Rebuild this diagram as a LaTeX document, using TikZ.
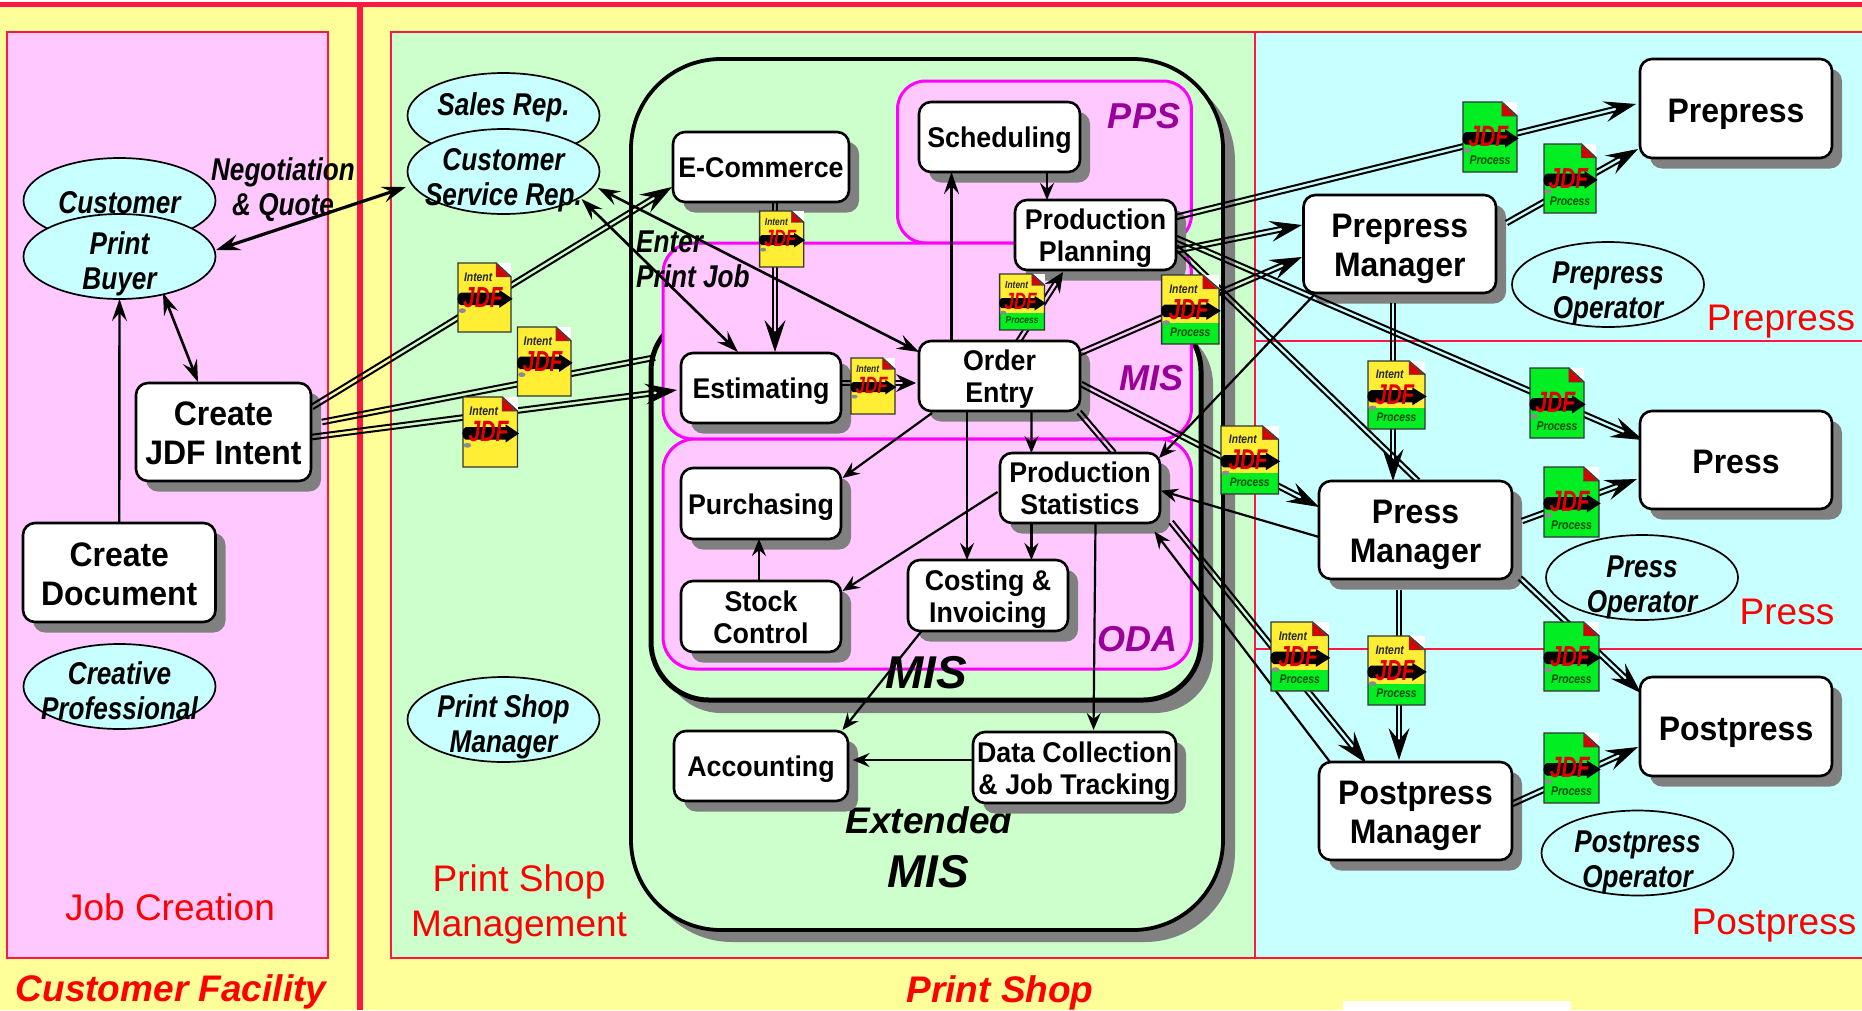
\documentclass[tikz,border=0pt]{standalone}
\usepackage{fontspec}
\setmainfont{Liberation Sans}
\newfontfamily\narrowf[FakeStretch=0.83]{Liberation Sans}
\newfontfamily\midf[FakeStretch=0.94]{Liberation Sans}
\usetikzlibrary{arrows.meta,calc,shapes.geometric}
\definecolor{bgyellow}{HTML}{FFFF99}
\definecolor{bgpink}{HTML}{FFC8FF}
\definecolor{bggreen}{HTML}{CCFFCC}
\definecolor{bgcyan}{HTML}{C8FFFF}
\definecolor{redline}{HTML}{FF1744}
\definecolor{labpurple}{HTML}{990099}
\definecolor{shadowgray}{HTML}{808080}
\definecolor{docyellow}{HTML}{FFEE33}
\definecolor{docgreen}{HTML}{00EE22}
\definecolor{magline}{HTML}{FF00FF}
\pgfdeclarelayer{bgl}\pgfdeclarelayer{shad}\pgfdeclarelayer{top}
\pgfsetlayers{bgl,shad,main,top}
\tikzset{
  zone/.style={draw=redline,line width=1.4pt},
  boxnode/.style={draw=black,fill=white,line width=2.6pt,rounded corners=12pt,align=center,inner sep=0pt},
  bigt/.style={font=\midf\bfseries\fontsize{34}{39}\selectfont,text height=31pt,text depth=4pt},
  bigtt/.style={font=\midf\bfseries\fontsize{34}{39}\selectfont,text height=68pt,text depth=3pt},
  smallt/.style={font=\midf\bfseries\fontsize{28.5}{32}\selectfont,text height=25.4pt,text depth=4pt},
  smalltt/.style={font=\midf\bfseries\fontsize{28.5}{32}\selectfont,text height=56.4pt,text depth=3pt},
  person/.style={ellipse,draw=black,fill=bgcyan,line width=1.7pt,inner sep=0pt},
  persont/.style={align=center,inner sep=0pt,font=\narrowf\bfseries\itshape\fontsize{31.5}{35}\selectfont,text height=58.6pt,text depth=3pt},
  persons/.style={align=center,inner sep=0pt,font=\narrowf\bfseries\itshape\fontsize{31.5}{35}\selectfont,text height=25pt,text depth=4pt},
  redt/.style={text=red,align=center,inner sep=0pt,font=\fontsize{37}{45}\selectfont},
  redbt/.style={text=red,inner sep=0pt,font=\bfseries\itshape\fontsize{37}{45}\selectfont},
  purplet/.style={text=labpurple,inner sep=0pt,font=\bfseries\itshape\fontsize{36}{40}\selectfont},
  blackt/.style={inner sep=0pt,font=\bfseries\itshape\fontsize{46}{50}\selectfont},
  sarrow/.style={line width=2.2pt,-{Stealth[length=17pt,width=14pt,inset=6pt]}},
  larrow/.style={line width=2.4pt,-{Stealth[length=22pt,width=15pt,inset=8pt]}},
  wboth/.style={line width=2.6pt,{Stealth[length=22pt,width=15pt,inset=8pt]}-{Stealth[length=22pt,width=15pt,inset=8pt]}},
  tboth/.style={line width=3.2pt,{Stealth[length=24pt,width=16pt,inset=9pt]}-{Stealth[length=24pt,width=16pt,inset=9pt]}},
  dl/.style={line width=2pt,draw=black},
}
% rounded panel with optional shadow offset
\newcommand\panel[7]{% name x0 y0 x1 y1 style shadow
  \pgfmathsetmacro\pw{#4-#2}\pgfmathsetmacro\ph{#5-#3}
  \pgfmathsetmacro\pcx{(#2+#4)/2}\pgfmathsetmacro\pcy{(#3+#5)/2}
  #7
  \node[#6,minimum width=\pw pt,minimum height=\ph pt,inner sep=0pt] (#1) at (\pcx,\pcy) {};
}
\newcommand\bx[7]{% name x0 y0 x1 y1 textstyle text
  \pgfmathsetmacro\bw{#4-#2}\pgfmathsetmacro\bh{#5-#3}
  \pgfmathsetmacro\bcx{(#2+#4)/2}\pgfmathsetmacro\bcy{(#3+#5)/2}
  \begin{pgfonlayer}{shad}
    \fill[shadowgray,rounded corners=12pt] (#2+10,#3+10) rectangle (#4+10,#5+10.5);
  \end{pgfonlayer}
  \begin{pgfonlayer}{top}
    \node[boxnode,#6,minimum width=\bw pt,minimum height=\bh pt] (#1) at (\bcx,\bcy) {#7};
  \end{pgfonlayer}
}
\newcommand\el[6]{% name cx cy textstyle text texty
  \begin{pgfonlayer}{top}
    \node[person,minimum width=192pt,minimum height=85pt] (#1) at (#2,#3) {};
    \node[#4] (#1t) at (#2,#6) {#5};
  \end{pgfonlayer}
}
\newcommand\jdf[6]{% name x0 y0 x1 y1 kind(1 intent,2 both,3 process)
  \begin{pgfonlayer}{top}
  \pgfmathsetmacro\jw{#4-#2}\pgfmathsetmacro\jh{#5-#3}\pgfmathsetmacro\jf{\jh/69}
  \pgfmathsetmacro\fsI{12.5*\jf}\pgfmathsetmacro\fsJ{29*\jf}
  \ifnum#6=3 \def\jc{docgreen}\else\def\jc{docyellow}\fi
  \begin{scope}[shift={(#2,#3)},x=\jw pt,y=-\jh pt]
    \coordinate (#1) at (.5,.5);
    \fill[white] (.7,0) rectangle (1,.22);
    \fill[fill=\jc] (0,0) -- (.72,0) -- (1,.2) -- (1,1) -- (0,1) -- cycle;
    \ifnum#6=2 \fill[docgreen] (0,.69) rectangle (1,1);\fi
    \draw[line width=1.4pt,draw=black!80] (0,0) -- (.72,0) -- (1,.2) -- (1,1) -- (0,1) -- cycle;
    \filldraw[fill=red!85!black,draw=black!70,line width=.6pt] (.72,0) -- (.97,.2) -- (.72,.2) -- cycle;
    \fill[black] (.05,.43) -- (.78,.43) -- (.78,.39) -- (1.03,.52) -- (.78,.65) -- (.78,.61) -- (.05,.61) .. controls (-.03,.6) and (-.03,.44) .. (.05,.43) -- cycle;
    \fill[black!45] (.08,.69) circle [x radius=.07,y radius=.035];
    \node[inner sep=0pt,text=red!90!black,font=\bfseries\itshape\fontsize{\fsJ}{\fsJ}\selectfont] (#1j) at (.47,.5) {\scalebox{.72}[1]{JDF}};
    \ifnum#6<3
      \node[inner sep=0pt,text=black!85,font=\narrowf\bfseries\itshape\fontsize{\fsI}{\fsI}\selectfont] (#1i) at (.38,.2) {Intent};
    \fi
    \ifnum#6>1
      \node[inner sep=0pt,text=green!30!black,font=\narrowf\bfseries\itshape\fontsize{\fsI}{\fsI}\selectfont] (#1p) at (.5,.83) {Process};
    \fi
  \end{scope}
  \end{pgfonlayer}
}
\newcommand\sgl[7]{\draw[#1] ([shift={(#3,#4)}]#2.center) -- ([shift={(#6,#7)}]#5.center);}
\newcommand\dlines[2]{% start end coordinates names
  \draw[dl] ($(#1)!2.3pt!90:(#2)$) -- ($(#2)!2.3pt!-90:(#1)$);
  \draw[dl] ($(#1)!2.3pt!-90:(#2)$) -- ($(#2)!2.3pt!90:(#1)$);
}
\newcommand\dplain[6]{%
  \coordinate (dA) at ([shift={(#2,#3)}]#1.center);
  \coordinate (dB) at ([shift={(#5,#6)}]#4.center);
  \dlines{dA}{dB}
}
\newcommand\dbig[6]{%
  \coordinate (dA) at ([shift={(#2,#3)}]#1.center);
  \coordinate (dB) at ([shift={(#5,#6)}]#4.center);
  \coordinate (dC) at ($(dB)!12pt!(dA)$);
  \dlines{dA}{dC}
  \draw[line width=1pt,-{Stealth[length=32pt,width=21pt,inset=12pt]}] ($(dB)!20pt!(dA)$) -- (dB);
}
\newcommand\dsmall[6]{%
  \coordinate (dA) at ([shift={(#2,#3)}]#1.center);
  \coordinate (dB) at ([shift={(#5,#6)}]#4.center);
  \coordinate (dC) at ($(dB)!10pt!(dA)$);
  \dlines{dA}{dC}
  \draw[line width=1pt,-{Stealth[length=20pt,width=18pt,inset=7pt]}] ($(dB)!13pt!(dA)$) -- (dB);
}
\begin{document}
\begin{tikzpicture}[x=1pt,y=-1pt]
\useasboundingbox (0,0) rectangle (1862,1010);
\begin{pgfonlayer}{bgl}
  \fill[white] (0,0) rectangle (1862,1010);
  \fill[bgyellow] (0,2) rectangle (1862,1010);
  \fill[white] (1343,1001) rectangle (1571,1010);
  \fill[redline] (0,2) rectangle (1862,6.5);
  \fill[redline] (357,2) rectangle (362.5,1010);
  \filldraw[zone,fill=bgpink] (7,32) rectangle (328,958);
  \filldraw[zone,fill=bggreen] (391,32) rectangle (1255,958);
  \filldraw[zone,fill=bgcyan] (1255,32) rectangle (1870,958);
  \draw[zone] (1255,341) -- (1870,341);
  \draw[zone] (1255,649) -- (1870,649);
  \panel{extmis}{631}{59}{1223}{930}{draw=black,fill=bggreen,line width=3.8pt,rounded corners=90pt}
    {\fill[shadowgray,rounded corners=90pt] (642,71) rectangle (1235,942);}
  \panel{mis}{651}{313}{1201}{700}{draw=black,fill=bggreen,line width=5pt,rounded corners=58pt}
    {\fill[shadowgray,rounded corners=58pt] (663,326) rectangle (1213,713);}
  \panel{pps}{897.5}{81}{1191.4}{243}{draw=magline,fill=bgpink,line width=3pt,rounded corners=28pt}{}
  \panel{mispink}{663}{243}{1191.4}{439}{draw=magline,fill=bgpink,line width=3pt,rounded corners=30pt}{}
  \panel{oda}{663}{439}{1191.4}{669}{draw=magline,fill=bgpink,line width=3pt,rounded corners=32pt}{}
  \node[inner sep=0pt,font=\bfseries\itshape\fontsize{37}{40}\selectfont] (lblext) at (929,820) {Extended};
\end{pgfonlayer}

% boxes
\bx{cji}{136}{383}{311}{481}{bigtt}{Create\\JDF Intent}
\bx{cdoc}{23}{523}{215.5}{622}{bigtt}{Create\\Document}
\bx{ecom}{673}{132}{849}{202}{smallt}{E-Commerce}
\bx{sched}{919}{102}{1080}{172}{smallt}{Scheduling}
\bx{pp}{1015}{200}{1176}{270}{smalltt}{Production\\Planning}
\bx{est}{681}{353}{841}{423}{smallt}{Estimating}
\bx{oe}{919}{341}{1080}{411}{smalltt}{Order\\Entry}
\bx{ps}{1000}{453}{1160}{523}{smalltt}{Production\\Statistics}
\bx{purch}{681}{468}{841}{539}{smallt}{Purchasing}
\bx{stock}{681}{581}{841}{652}{smalltt}{Stock\\Control}
\bx{cost}{908}{560}{1068}{631}{smalltt}{Costing \&\\Invoicing}
\bx{acc}{674}{731}{848}{801}{smallt}{Accounting}
\bx{dc}{973}{732}{1176}{803}{smalltt}{Data Collection\\\& Job Tracking}
\bx{prep}{1640}{59}{1832}{158}{bigt}{Prepress}
\bx{prepm}{1303.5}{195}{1496}{293}{bigtt}{Prepress\\Manager}
\bx{press}{1640}{411}{1832}{509}{bigt}{Press}
\bx{pressm}{1319}{481}{1512}{579}{bigtt}{Press\\Manager}
\bx{post}{1640}{677}{1832}{776}{bigt}{Postpress}
\bx{postm}{1319}{762}{1512}{860}{bigtt}{Postpress\\Manager}

% people
\el{cust}{119.5}{200.5}{persons}{Customer}{203}
\el{pb}{119.5}{256.5}{persont}{Print\\Buyer}{262}
\el{sales}{503.5}{115.5}{persons}{Sales Rep.}{105}
\el{csr}{503.5}{171.5}{persont}{Customer\\Service Rep.}{178}
\el{creat}{119.5}{686.5}{persont}{Creative\\Professional}{692}
\el{psm}{503.5}{719.5}{persont}{Print Shop\\Manager}{725}
\el{prepo}{1608}{284.5}{persont}{Prepress\\Operator}{291}
\el{presso}{1642}{577.5}{persont}{Press\\Operator}{584.5}
\el{posto}{1637.5}{853}{persont}{Postpress\\Operator}{859.5}

% documents
\jdf{d1}{458}{263}{511}{332}{1}
\jdf{d2}{517.5}{327}{571}{396}{1}
\jdf{d3}{463}{397}{517.5}{467}{1}
\jdf{d4}{759.6}{211}{803.7}{267}{1}
\jdf{d5}{851}{358}{895}{414}{1}
\jdf{d6}{999.6}{274}{1044.5}{330}{2}
\jdf{d7}{1161.6}{275}{1219}{344}{2}
\jdf{d8}{1368}{361}{1425}{429}{2}
\jdf{d9}{1221}{426}{1278.5}{494}{2}
\jdf{d10}{1271}{622}{1328.5}{691}{2}
\jdf{d11}{1368}{636}{1425}{705}{2}
\jdf{d12}{1463}{102}{1517}{172}{3}
\jdf{d13}{1544}{144}{1596}{213}{3}
\jdf{d14}{1530}{368}{1584}{438}{3}
\jdf{d15}{1544}{467}{1599}{537}{3}
\jdf{d16}{1544}{622}{1599}{691}{3}
\jdf{d17}{1544}{733}{1599}{803}{3}

% labels
\begin{pgfonlayer}{top}
  \node[redt] (lbljob) at (170,907) {Job Creation};
  \node[redt] (lblpsm) at (519,904.5) {Print Shop\\Management};
  \node[redt] (lblprep) at (1781,321.5) {Prepress};
  \node[redt] (lblpress) at (1787,612) {Press};
  \node[redt] (lblpost) at (1774,925.5) {Postpress};
  \node[redbt] (lblcf) at (171,991.5) {Customer Facility};
  \node[redbt] (lblps) at (1000,992.5) {Print Shop};
  \node[purplet] (lblpps) at (1144,116) {PPS};
  \node[purplet] (lblmisp) at (1151,378) {MIS};
  \node[purplet] (lbloda) at (1137,639) {ODA};
  \node[blackt] (lblmis) at (926,673) {MIS};
  \node[blackt] (lblmis2) at (928.5,872) {MIS};
  \node[persont] (lblneg) at (283,187.5) {Negotiation\\\& Quote};
  \node[persont,align=left,anchor=west] (lblent) at (636,260) {Enter\\Print Job};
\end{pgfonlayer}

% single connectors
\sgl{larrow}{cdoc}{0}{-49.5}{pb}{0}{42.5}
\sgl{wboth}{pb}{43.5}{36.5}{cji}{-25.5}{-50}
\sgl{tboth}{pb}{96.5}{-6.5}{csr}{-97.5}{15.5}
\sgl{wboth}{csr}{94.5}{16.5}{oe}{-80.5}{-24}
\sgl{wboth}{csr}{78}{27.5}{est}{-23}{-36}
\sgl{larrow}{oe}{-48}{-35}{sched}{-48}{35}
\sgl{sarrow}{sched}{47.5}{35}{pp}{-48.5}{-35}
\sgl{sarrow}{oe}{-67.5}{37}{purch}{81.5}{-25.5}
\sgl{sarrow}{oe}{32}{35}{ps}{-48.6}{-35}
\sgl{sarrow}{oe}{-32.5}{35}{cost}{-21}{-35.5}
\sgl{sarrow}{ps}{-82.5}{4}{stock}{81.5}{-25.5}
\sgl{sarrow}{ps}{-48.6}{35}{cost}{43.4}{-35.5}
\sgl{sarrow}{ps}{15.5}{35}{dc}{19}{-37.5}
\sgl{sarrow}{stock}{-2}{-35.5}{purch}{-2}{35.5}
\sgl{sarrow}{cost}{-64}{32.5}{acc}{81.5}{-36}
\sgl{sarrow}{dc}{-101.5}{-7.5}{acc}{91.6}{-6}
\sgl{sarrow}{pressm}{-96.5}{7}{ps}{81}{2.7}
\sgl{sarrow}{prepm}{-85.75}{51}{ps}{79}{-30}
\sgl{sarrow}{postm}{-85.5}{-49}{ps}{74.5}{43.7}

% double connectors
\dbig{cji}{88.5}{-25}{ecom}{-89}{20}
\dplain{cji}{98.5}{-10}{mis}{-271}{-149}
\dbig{cji}{88.5}{5}{est}{-84}{2}
\dbig{ecom}{14}{35}{est}{14}{-36}
\dsmall{est}{80}{-5}{oe}{-83.5}{7}
\dsmall{oe}{18.5}{-34}{pp}{-32.5}{37}
\dbig{oe}{80.5}{-23}{prepm}{-97.75}{13}
\dbig{oe}{81.5}{8}{pressm}{-96.5}{-23}
\dplain{oe}{79.5}{36}{ps}{34}{-35}
\dbig{ps}{91}{34}{postm}{-49.5}{-48}
\dbig{pp}{80.5}{-18}{prep}{-100}{-4.5}
\dbig{pp}{80.5}{15.5}{prepm}{-97.75}{-19}
\dbig{pp}{80.5}{3}{press}{-93}{-20}
\dplain{pp}{80.5}{12}{pressm}{2.5}{-49}
\dbig{prepm}{106.75}{-21}{prep}{-98}{40.5}
\dbig{prepm}{-6.75}{59}{pressm}{-22.5}{-49}
\dbig{pressm}{106.5}{-9}{press}{-99}{19}
\dbig{pressm}{104.5}{48}{post}{-95}{-33.5}
\dbig{pressm}{-16.5}{60}{postm}{-16.5}{-51}
\dbig{postm}{96.5}{-7}{post}{-98}{20.5}
\end{tikzpicture}
\end{document}
